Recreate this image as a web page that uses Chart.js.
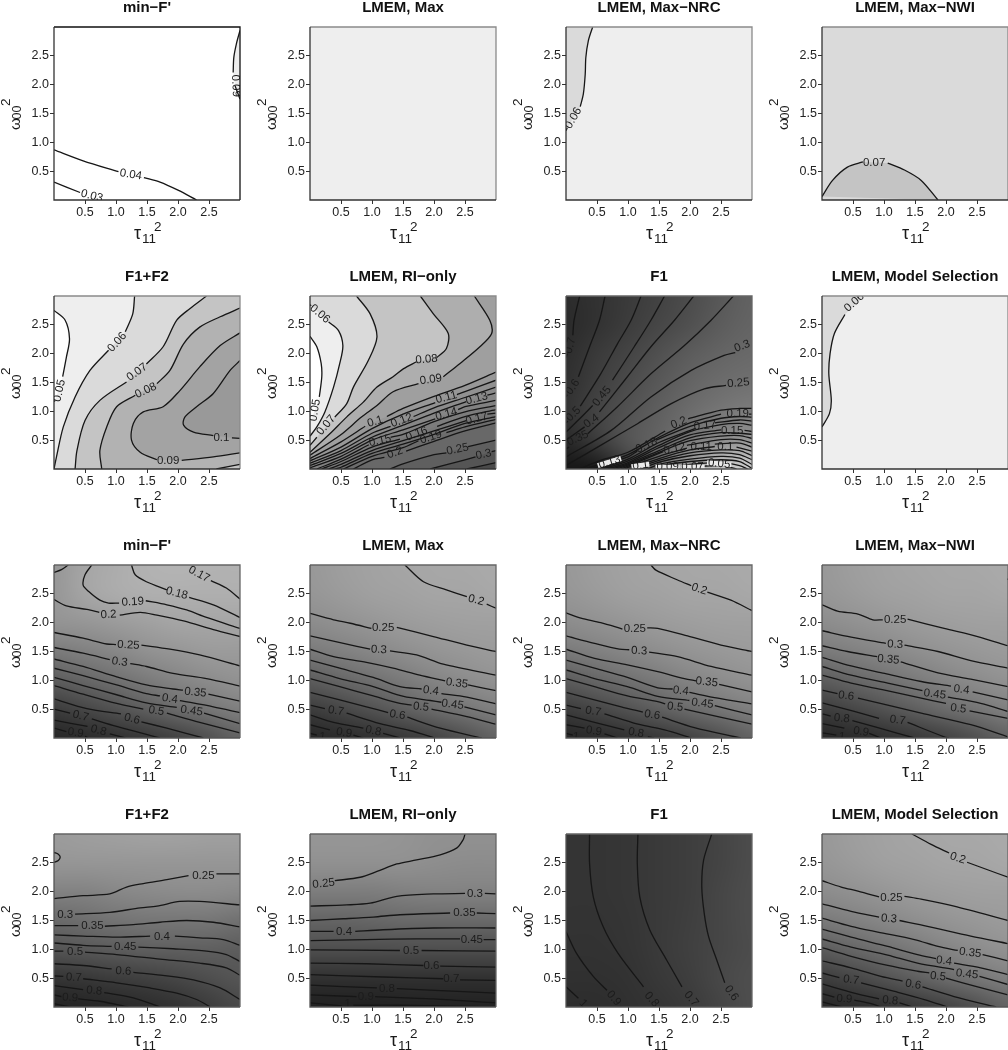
<!DOCTYPE html>
<html>
<head>
<meta charset="utf-8">
<style>
  html, body { margin: 0; padding: 0; background: #fff; overflow: hidden; }
  #page { position: relative; width: 1008px; height: 1050px; overflow: hidden; }
  #page canvas { position: absolute; }
</style>
<script src="https://cdn.jsdelivr.net/npm/chart.js@4/dist/chart.umd.min.js"></script>
</head>
<body>
<div id="page"></div>
<script>
// ---- axis and titles ----
const tickValues = [0.5, 1, 1.5, 2, 2.5];
const panelTitles = [
  "min\u2212F'", 'LMEM, Max', 'LMEM, Max\u2212NRC', 'LMEM, Max\u2212NWI',
  'F1+F2', 'LMEM, RI\u2212only', 'F1', 'LMEM, Model Selection',
  "min\u2212F'", 'LMEM, Max', 'LMEM, Max\u2212NRC', 'LMEM, Max\u2212NWI',
  'F1+F2', 'LMEM, RI\u2212only', 'F1', 'LMEM, Model Selection'
];

// ---- contour lines, [x, y] pairs, null = gap where a label sits ----
// row 1
const r1MinF = [
  [[0,.87],[.47,.68],[1.04,.49],null,[1.45,.39],[1.71,.31],[2,.17],[2.3,0]],
  [[0,.31],[.42,.13],null,[.8,0]],
  [[3,2.94],[2.94,2.7],[2.9,2.47],[2.89,2.21],null,[2.92,1.98],[3,1.75]]
];
const r1MinFLabels = [['0.04',1.24,.44,9],['0.03',.61,.07,14],['0.09',2.93,1.98,88]];
const r1Max = [];
const r1Nrc = [[[.43,3],[.36,2.76],[.32,2.47],[.31,2.18],[.28,1.84],[.23,1.62],null,[.02,1.25],[0,1.2]]];
const r1NrcLabels = [['0.06',.12,1.42,-60]];
const r1Nwi = [[[0,.06],[.17,.34],[.41,.57],[.66,.66],null,[1.06,.64],[1.33,.52],[1.6,.34],[1.87,0]]];
const r1NwiLabels = [['0.07',.84,.65,0]];

// row 2
const r2F1F2 = [
  [[0,2.75],[.18,2.58],[.25,2.26],[.2,1.94],[.14,1.6],null,[.02,1.19],[0,1.17]],
  [[0,0],[.04,.21],[.15,.73],[.34,1.25],[.58,1.71],[.88,2.06],null,[1.15,2.38],[1.27,2.69],[1.3,3]],
  [[.34,0],[.37,.32],[.5,.84],[.74,1.19],[1.17,1.51],null,[1.49,1.82],[1.76,2.12],[1.98,2.58],[2.19,2.78],[2.46,3]],
  [[.77,0],[.74,.32],[.85,.73],[1.01,1.08],[1.31,1.28],null,[1.66,1.48],[1.87,1.71],[2.09,2.17],[2.35,2.46],[2.68,2.64],[3,2.79]],
  [[3,.28],[2.57,.21],[2.06,.15],null,[1.66,.16],[1.39,.29],[1.25,.5],[1.28,.79],[1.44,.99],[1.76,1.08],[2.03,1.36],[2.35,1.77],[2.68,2.14],[3,2.36]],
  [[3,.53],[2.87,.54],null,[2.57,.58],[2.25,.64],[2.09,.76],[2.11,.9],[2.3,1.08],[2.57,1.31],[2.84,1.71],[3,1.88]],
  [[2.62,0],[3,.08]]
];
const r2F1F2Labels = [['0.05',.09,1.36,-78],['0.06',1.02,2.2,-48],['0.07',1.34,1.68,-35],['0.08',1.48,1.36,-25],['0.09',1.84,.15,0],['0.1',2.7,.54,0]];

const r2Ri = [
  [[0,2.3],[.11,2.12],[.18,1.83],[.19,1.6],[.15,1.25],null,[.02,.84]],
  [[0,2.85],[.02,2.83],null,[.3,2.55],[.46,2.4],[.53,2.14],[.48,1.83],[.38,1.42],[.24,.99],[.11,.73],[0,.57]],
  [[.75,3],[.97,2.69],[1.08,2.29],[.94,1.88],[.7,1.42],[.59,1.13],[.4,.9],null,[.11,.55],[0,.41]],
  [[1.78,3],[1.99,2.69],[2.23,2.35],[2.2,2.09],[2.04,1.93],null,[1.72,1.86],[1.51,1.74],[1.34,1.6],[1.08,1.42],[.86,1.16],[.59,.9],[.32,.61],[0,.29]],
  [[2.65,3],[2.9,2.58],[2.93,2.35],[2.74,2.12],[2.42,1.83],[2.15,1.6],null,[1.75,1.48],[1.34,1.34],[1.08,1.1],[.83,.9],[.48,.58],[0,.24]],
  [[3,1.68],[2.5,1.45],[2,1.26],[1.5,1.05],[1.24,.91],null,[.89,.74],[.5,.47],[0,.18]],
  [[3,1.54],[2.5,1.34],[2.37,1.29],null,[2.02,1.15],[1.5,.95],[1,.7],[.5,.38],[0,.14]],
  [[3,1.42],[2.5,1.24],[2,1.06],[1.67,.91],null,[1.3,.74],[1,.62],[.5,.32],[0,.1]],
  [[3,1.32],[2.86,1.28],null,[2.52,1.17],[2,.97],[1.5,.76],[1,.55],[.5,.27],[0,.06]],
  [[3,1.19],[2.5,1.08],[2.39,1.03],null,[2.02,.87],[1.5,.68],[1,.5],[.5,.22],[0,.02]],
  [[3,1.1],[2.5,.99],[2,.82],[1.5,.6],[1.3,.55],null,[.95,.42],[.5,.17],[.11,0]],
  [[3,1.03],[2.5,.91],[2.05,.74],null,[1.45,.52],[1,.38],[.5,.13],[.19,0]],
  [[3,.97],[2.86,.95],null,[2.52,.84],[2,.66],[1.5,.49],[1,.32],[.5,.08],[.3,0]],
  [[3,.91],[2.5,.79],[2,.6],[1.5,.43],[1,.27],[.5,.03],[.41,0]],
  [[3,.86],[2.5,.73],[2.2,.63],null,[1.75,.49],[1.5,.37],[1,.22],[.54,0]],
  [[3,.8],[2.5,.66],[2,.48],[1.55,.31],null,[1.2,.2],[1,.16],[.7,0]],
  [[3,.5],[2.55,.39],null,[2.2,.28],[2,.25],[1.5,.09],[1.29,0]],
  [[3,.32],[2.93,.3],null,[2.67,.21],[2.5,.16],[1.94,0]],
  [[3,.11],[2.53,0]]
];
const r2RiLabels = [
  ['0.05',.08,1.02,-80],['0.06',.16,2.69,40],['0.07',.26,.76,-50],['0.08',1.88,1.9,-5],['0.09',1.95,1.55,-8],
  ['0.1',1.05,.82,-17],['0.11',2.2,1.24,-15],['0.12',1.48,.84,-20],['0.13',2.69,1.22,-15],['0.14',2.2,.95,-15],
  ['0.15',1.13,.49,-12],['0.16',1.72,.61,-20],['0.17',2.69,.87,-15],['0.19',1.95,.55,-18],['0.2',1.37,.28,-20],
  ['0.25',2.38,.34,-12],['0.3',2.8,.25,-12]
];

const r2F1 = [
  [[.22,3],[.13,2.58],[.11,2.32],null,[.02,2],[0,1.93]],
  [[.63,3],[.54,2.58],[.38,2.12],[.2,1.6],null,[.02,1.29],[0,1.25]],
  [[1.21,3],[1.05,2.58],[.83,2.17],[.56,1.65],[.23,1.09],null,[.03,.83],[0,.8]],
  [[1.59,3],[1.37,2.58],[1.1,2.12],[.75,1.54],null,[.43,1.1],[.22,.87],[0,.64]],
  [[2.06,3],[1.75,2.58],[1.37,2.12],[.99,1.6],[.54,.99],null,[.3,.73],[0,.5]],
  [[2.7,3],[2.34,2.58],[1.91,2.14],[1.37,1.65],[.83,1.08],[.35,.61],null,[.05,.38],[0,.35]],
  [[2.73,2.02],[2.55,1.97],[2.02,1.71],[1.37,1.25],[.73,.67],[0,.21]],
  [[2.58,1.45],[2.23,1.39],[1.69,1.13],[1.16,.79],[.51,.38],[0,.06]],
  [[.22,0],[.56,.15],[1,.29],[1.6,.66],null,[1.97,.87],[2.5,1.02],[2.8,1.05],[3,1.05]],
  [[.32,0],[1,.25],[1.5,.55],[2,.8],[2.5,.95],null,[2.95,.95],[3,.95]],
  [[.41,0],[1,.21],[1.15,.31],null,[1.45,.5],[2,.74],[2.5,.88],[2.8,.91],[3,.9]],
  [[.51,0],[1,.17],[1.5,.46],[2.08,.7],null,[2.4,.8],[2.8,.85],[3,.83]],
  [[.59,0],[1,.14],[1.5,.41],[2,.65],[2.5,.77],[2.8,.79],[3,.76]],
  [[.67,0],[1,.11],[1.5,.37],[2,.59],[2.5,.68],null,[2.88,.67],[3,.65]],
  [[.75,0],[1,.09],[1.5,.32],[2,.54],[2.5,.63],[2.8,.62],[3,.6]],
  [[.82,0],[1,.07],[1.5,.29],[2,.49],[2.5,.57],[2.8,.58],[3,.53]],
  [[.89,0],[1,.05],[1.57,.3],null,[1.95,.41],[2.5,.51],[2.8,.51],[3,.45]],
  [[.95,0],[1,.03],[1.5,.22],[1.95,.36],null,[2.4,.43],[2.8,.45],[3,.38]],
  [[1.02,0],[1.5,.18],[2,.33],[2.4,.39],null,[2.75,.38],[3,.31]],
  [[1.1,0],[1.5,.15],[2,.28],[2.5,.33],[2.8,.32],[3,.23]],
  [[1.21,0],[1.5,.12],[2,.23],[2.5,.28],[2.8,.25],[3,.16]],
  [[1.32,0],[1.5,.08],[2,.17],[2.5,.22],[2.8,.19],[3,.08]],
  [[1.42,0],[1.5,.05],[2,.13],[2.5,.16],[2.8,.13],[3,.01]],
  [[1.56,0],[2,.08],[2.5,.11],[2.8,.06],[2.93,0]],
  [[1.75,0],[2,.03],[2.5,.06],[2.75,0]]
];
const r2F1Labels = [
  ['0.7',.07,2.14,-75],['0.6',.11,1.42,-55],['0.5',.12,.95,-45],['0.45',.58,1.26,-50],['0.4',.41,.83,-35],
  ['0.35',.19,.53,-25],['0.3',2.84,2.13,-20],['0.25',2.78,1.49,-5],['0.2',1.82,.8,-22],['0.19',2.77,.96,0],
  ['0.18',1.3,.41,-25],['0.17',2.24,.75,-5],['0.15',2.68,.67,0],['0.12',1.75,.35,-12],['0.11',2.18,.38,0],['0.1',2.57,.38,0]
];
const r2F1Halos = [['0.13',.7,.12,-17],['0.1',1.2,.06,-8],['0.09',1.64,.03,0],['0.07',2.04,.03,0],['0.05',2.47,.09,5]];

const r2Sel = [[[.66,2.98],null,[.37,2.68],[.2,2.35],[.13,2],[.11,1.65],[.15,1.19],[.12,.96],[0,.73]]];
const r2SelLabels = [['0.06',.52,2.89,-42]];

// row 3
const r3MinF = [
  [[0,2.87],[.12,2.92],[.23,3]],
  [[.61,3],[.5,2.83],[.47,2.65],[.56,2.54],[.74,2.39],[.88,2.34],[1.05,2.34],null,[1.48,2.38],[1.82,2.31],[2.14,2.22],[2.46,2.09],[3,1.9]],
  [[1.25,3],[1.31,2.83],[1.49,2.71],[1.82,2.57],null,[2.18,2.44],[2.57,2.31],[3,2.09]],
  [[2.14,3],null,[2.53,2.73],[2.78,2.6],[3,2.41]],
  [[0,2.4],[.2,2.29],[.53,2.23],[.73,2.18],null,[1.06,2.13],[1.39,2.18],[1.66,2.13],[2.09,2.03],[2.57,1.88],[3,1.76]],
  [[0,1.83],[.47,1.73],[.85,1.63],[1,1.62],null,[1.41,1.61],[1.87,1.54],[2.35,1.44],[3,1.25]],
  [[0,1.57],[.47,1.47],[.9,1.36],null,[1.23,1.29],[1.49,1.24],[1.92,1.12],[2.46,1.03],[3,.9]],
  [[0,1.37],[.47,1.24],[1.01,1.06],[1.49,.92],[1.92,.85],[2.08,.83],null,[2.49,.76],[3,.64]],
  [[0,1.21],[.47,1.08],[1.01,.92],[1.49,.77],[1.71,.73],null,[2.03,.65],[2.57,.54],[3,.44]],
  [[0,1.05],[.47,.91],[1.01,.75],[1.49,.61],[1.98,.53],null,[2.42,.43],[3,.25]],
  [[0,.91],[.47,.76],[1.01,.6],[1.44,.5],null,[1.82,.43],[2.35,.27],[3,.09]],
  [[0,.68],[.53,.51],[1.08,.42],null,[1.41,.28],[1.82,.17],[2.41,0]],
  [[0,.5],[.26,.43],null,[.61,.33],[1.01,.2],[1.71,0]],
  [[0,.31],[.54,.2],null,[.9,.07],[1.15,0]],
  [[0,.17],[.2,.11],null,[.5,.03],[.55,0]]
];
const r3MinFLabels = [
  ['0.19',1.27,2.36,-3],['0.18',1.98,2.51,15],['0.17',2.34,2.84,28],['0.2',.88,2.14,-3],['0.25',1.2,1.61,3],['0.3',1.06,1.32,8],
  ['0.35',2.28,.79,6],['0.4',1.87,.68,8],['0.45',2.22,.47,8],['0.5',1.65,.47,10],['0.6',1.26,.33,15],['0.7',.43,.38,15],['0.8',.72,.13,15],['0.9',.35,.09,8]
];
const r3Max = [
  [[1.53,3],[1.83,2.71],[2.2,2.57],[2.53,2.45],null,[2.85,2.32],[3,2.25]],
  [[0,2.16],[.38,2.05],[.65,1.99],[.99,1.9],null,[1.4,1.92],[1.99,1.76],[2.53,1.61],[3,1.5]],
  [[0,1.77],[.54,1.64],[.97,1.54],null,[1.29,1.51],[1.72,1.44],[2.15,1.28],[3,1.09]],
  [[0,1.54],[.38,1.41],[.91,1.31],[1.34,1.21],[1.77,1.09],[2.18,.99],null,[2.55,.92],[3,.82]],
  [[0,1.35],[.48,1.21],[1.02,1.05],[1.45,.89],[1.8,.85],null,[2.12,.77],[2.53,.71],[3,.59]],
  [[0,1.18],[.48,1.03],[1.02,.89],[1.51,.72],[1.94,.65],[2.12,.62],null,[2.49,.54],[3,.4]],
  [[0,1.03],[.48,.89],[1.02,.73],[1.45,.6],[1.64,.57],null,[1.96,.5],[2.53,.37],[3,.24]],
  [[0,.79],[.48,.66],[.91,.54],[1.26,.44],null,[1.57,.36],[2.1,.17],[2.77,0]],
  [[0,.57],[.24,.51],null,[.59,.43],[1.13,.25],[1.61,.13],[2.02,0]],
  [[0,.4],[.38,.27],[.86,.17],null,[1.18,.08],[1.45,0]],
  [[0,.23],[.32,.14],null,[.7,.05],[.86,0]],
  [[0,.08],[.11,.05]]
];
const r3MaxLabels = [
  ['0.2',2.68,2.39,15],['0.25',1.18,1.91,0],['0.3',1.11,1.53,3],['0.35',2.37,.95,7],['0.4',1.95,.82,8],['0.45',2.3,.58,8],
  ['0.5',1.79,.54,6],['0.6',1.41,.4,10],['0.7',.42,.47,10],['0.8',1.02,.12,12],['0.9',.55,.09,8],['1',.2,.02,8]
];
const r3Nrc = [
  [[1.37,3],[1.45,2.91],[1.8,2.74],[2.02,2.64],null,[2.28,2.53],[2.66,2.39],[3,2.21]],
  [[0,2.17],[.24,2.08],[.56,2],[.91,1.89],null,[1.31,1.91],[1.48,1.9],[1.96,1.77],[2.5,1.61],[3,1.5]],
  [[0,1.77],[.46,1.64],[.86,1.54],[1.02,1.53],null,[1.34,1.49],[1.8,1.41],[2.34,1.24],[3,1.09]],
  [[0,1.54],[.46,1.38],[.99,1.27],[1.48,1.15],[1.91,1.03],[2.1,.99],null,[2.47,.93],[3,.8]],
  [[0,1.35],[.46,1.21],[.99,1.05],[1.48,.87],[1.72,.85],null,[1.99,.79],[2.45,.69],[3,.59]],
  [[0,1.18],[.46,1.03],[.99,.89],[1.48,.72],[1.99,.65],null,[2.4,.56],[3,.4]],
  [[0,1.03],[.46,.89],[.99,.73],[1.48,.63],[1.6,.59],null,[1.91,.5],[2.45,.37],[3,.24]],
  [[0,.79],[.46,.66],[.89,.54],[1.24,.45],null,[1.55,.36],[2.07,.18],[2.82,0]],
  [[0,.57],[.24,.51],null,[.62,.42],[1.16,.24],[1.59,.14],[2.02,0]],
  [[0,.4],[.46,.27],[.94,.14],null,[1.32,.02],[1.42,0]],
  [[0,.23],[.3,.17],null,[.62,.07],[.83,0]],
  [[0,.08],[.11,.05]]
];
const r3NrcLabels = [
  ['0.2',2.15,2.58,18],['0.25',1.11,1.9,0],['0.3',1.18,1.51,2],['0.35',2.27,.97,6],['0.4',1.85,.82,7],['0.45',2.2,.6,7],
  ['0.5',1.76,.54,6],['0.6',1.39,.4,10],['0.7',.44,.46,10],['0.8',1.13,.09,10],['0.9',.45,.12,8],['1',.16,.02,8]
];
const r3Nwi = [
  [[2.99,2.76],[3,2.75]],
  [[0,2.31],[.25,2.2],[.58,2.15],[.82,2.05],[.98,2.05],null,[1.38,2.06],[1.97,1.9],[2.51,1.76],[3,1.6]],
  [[0,1.86],[.47,1.75],[1.03,1.64],null,[1.33,1.61],[1.87,1.5],[2.4,1.34],[3,1.21]],
  [[0,1.6],[.41,1.5],[.89,1.41],null,[1.27,1.32],[1.87,1.13],[2.4,1.02],[3,.89]],
  [[0,1.4],[.47,1.25],[1.01,1.12],[1.6,.98],[2.08,.9],null,[2.43,.8],[3,.66]],
  [[0,1.24],[.47,1.09],[1.06,.95],[1.62,.82],null,[2.03,.71],[2.56,.6],[3,.46]],
  [[0,1.09],[.47,.95],[1.01,.83],[1.6,.69],[2,.6],null,[2.38,.47],[3,.34]],
  [[0,.83],[.25,.77],null,[.58,.69],[1.06,.57],[1.6,.43],[2.4,.23],[3,.02]],
  [[0,.61],[.52,.46],[.92,.34],null,[1.38,.27],[1.97,.02],[2.05,0]],
  [[0,.42],[.14,.38],null,[.49,.3],[.9,.18],[1.49,0]],
  [[0,.25],[.36,.17],null,[.76,.08],[.95,0]],
  [[0,.09],[.23,.05]]
];
const r3NwiLabels = [
  ['0.25',1.18,2.05,0],['0.3',1.18,1.62,3],['0.35',1.07,1.36,5],['0.4',2.25,.84,7],['0.45',1.82,.76,7],['0.5',2.2,.51,7],
  ['0.6',.39,.73,8],['0.7',1.22,.31,8],['0.8',.32,.34,6],['0.9',.63,.11,10],['1',.32,.02,8]
];

// row 4
const r4F1F2 = [
  [[0,2.68],[.07,2.65],[.1,2.6],[.07,2.54],[0,2.51]],
  [[0,1.88],[.47,1.93],[.9,1.96],[1.17,2.08],[1.44,2.14],[1.82,2.21],[2.17,2.28],null,[2.62,2.31],[3,2.31]],
  [[.34,1.61],[.9,1.64],[1.39,1.72],[1.66,1.75],[2.03,1.83],[2.35,1.83],[3,1.77]],
  [[0,1.41],[.39,1.41],null,[.82,1.4],[1.28,1.43],[1.71,1.47],[2.14,1.5],[2.57,1.47],[3,1.39]],
  [[0,1.25],[.47,1.23],[1.01,1.21],[1.55,1.23],null,[1.95,1.23],[2.35,1.2],[2.73,1.17],[3,1.07]],
  [[0,1.11],[.47,1.07],[.93,1.05],null,[1.36,1.04],[1.92,1.01],[2.46,.97],[2.78,.91],[3,.79]],
  [[0,.97],[.15,.97],null,[.5,.95],[1.01,.91],[1.71,.83],[2.35,.76],[2.78,.68],[3,.55]],
  [[0,.75],[.47,.72],[.93,.66],null,[1.28,.6],[1.82,.54],[2.25,.47],[2.68,.33],[3,.13]],
  [[0,.54],[.15,.53],null,[.47,.49],[1.01,.42],[1.55,.33],[1.98,.24],[2.3,.13],[2.52,0]],
  [[0,.37],[.47,.3],null,[.81,.25],[1.28,.16],[1.71,0]],
  [[0,.21],[.12,.18],null,[.39,.14],[.74,.1],[1.2,0]],
  [[0,.06],[.26,0]]
];
const r4F1F2Labels = [
  ['0.25',2.41,2.28,0],['0.3',.18,1.6,0],['0.35',.62,1.4,0],['0.4',1.74,1.21,0],['0.45',1.15,1.04,0],['0.5',.34,.95,0],
  ['0.6',1.12,.62,3],['0.7',.32,.51,3],['0.8',.65,.28,5],['0.9',.26,.16,3]
];
const r4Ri = [
  [[.4,2.19],[.81,2.25],[1.08,2.35],[1.4,2.48],[1.72,2.55],[2.1,2.64],[2.37,2.76],[2.47,2.9],[2.5,3]],
  [[0,1.75],[.59,1.77],[.97,1.8],[1.4,1.92],[1.99,1.96],[2.5,1.97],null,[2.82,1.97],[3,1.96]],
  [[0,1.5],[.54,1.53],[1.02,1.56],[1.45,1.6],[2.26,1.63],null,[2.69,1.63],[3,1.62]],
  [[0,1.31],[.38,1.31],null,[.73,1.31],[1.18,1.34],[1.99,1.37],[3,1.37]],
  [[0,1.15],[.91,1.17],[1.72,1.18],[2.42,1.18],null,[2.8,1.17],[3,1.17]],
  [[0,.99],[1.45,.98],null,[1.8,.98],[3,.97]],
  [[0,.76],[.91,.75],[1.83,.72],null,[2.1,.71],[3,.69]],
  [[0,.56],[1.18,.52],[2.15,.49],null,[2.42,.47],[3,.46]],
  [[0,.38],[1.08,.33],null,[1.4,.32],[3,.24]],
  [[0,.21],[.75,.18],null,[1.05,.18],[1.99,.14],[3,.07]],
  [[0,.07],[.51,.02],null,[.7,.03],[1.45,.03],[3,0]]
];
const r4RiLabels = [
  ['0.25',.22,2.14,-6],['0.3',2.66,1.97,0],['0.35',2.49,1.63,0],['0.4',.55,1.31,0],['0.45',2.61,1.17,0],['0.5',1.63,.97,0],
  ['0.6',1.96,.71,0],['0.7',2.28,.48,0],['0.8',1.24,.32,0],['0.9',.9,.17,0],['1',.61,.05,0]
];
const r4F1 = [
  [[0,.35],[.2,.15],null],
  [[0,1.31],[.17,.93],[.44,.53],[.66,.29],null,[.88,0]],
  [[.38,3],[.38,2.49],[.44,1.91],[.6,1.39],[.84,.93],[1.25,.35],null,[1.48,0]],
  [[1.16,3],[1.15,2.49],[1.19,1.91],[1.35,1.34],[1.62,.82],[1.87,.35],null,[2.12,0]],
  [[2.35,3],[2.22,2.55],[2.19,2.09],[2.23,1.62],[2.3,1.22],[2.43,.82],[2.56,.42],null,[2.81,0]]
];
const r4F1Labels = [['1',.28,.06,45],['0.9',.77,.15,50],['0.8',1.38,.13,50],['0.7',2.02,.14,50],['0.6',2.67,.24,55]];
const r4Sel = [
  [[1.45,3],[1.76,2.82],[2.05,2.67],null,[2.34,2.51],[2.67,2.38],[3,2.25]],
  [[0,2.19],[.31,2.08],[.58,2.01],[.92,1.91],null,[1.33,1.92],[1.6,1.87],[2.13,1.75],[3,1.5]],
  [[0,1.79],[.47,1.66],[.92,1.56],null,[1.25,1.5],[1.7,1.4],[2.4,1.23],[3,1.1]],
  [[0,1.54],[.47,1.4],[.9,1.3],[1.49,1.17],[1.87,1.05],[2.19,.98],null,[2.59,.91],[3,.8]],
  [[0,1.35],[.47,1.21],[1.06,1.05],[1.54,.91],[1.84,.84],null,[2.13,.76],[2.56,.68],[3,.56]],
  [[0,1.18],[.47,1.04],[1.06,.9],[1.54,.76],[2.13,.65],null,[2.54,.53],[3,.39]],
  [[0,1.03],[.47,.88],[1.06,.72],[1.54,.62],[1.73,.59],null,[2,.5],[2.51,.35],[3,.21]],
  [[0,.8],[.47,.68],[.95,.53],[1.3,.45],null,[1.62,.35],[2.13,.18],[2.81,0]],
  [[0,.59],[.28,.51],null,[.63,.42],[1.17,.27],[1.65,.13],[2.03,0]],
  [[0,.4],[.52,.24],[.92,.14],null,[1.25,.07],[1.46,0]],
  [[0,.23],[.2,.17],null,[.52,.12],[.79,.06],[.95,0]],
  [[0,.09],[.25,.02],[.33,0]]
];
const r4SelLabels = [
  ['0.2',2.19,2.58,18],['0.25',1.12,1.9,0],['0.3',1.08,1.53,5],['0.35',2.39,.94,7],['0.4',1.97,.8,7],['0.45',2.34,.57,7],
  ['0.5',1.87,.53,6],['0.6',1.47,.39,10],['0.7',.47,.47,8],['0.8',1.1,.11,5],['0.9',.36,.14,3]
];

// ---- grey level read at x = 0, .5 ... 3 (columns), y = 3, 2.5 ... 0 (rows) ----
const shadeR2F1 = [
  [44,50,58,66,76,88,98],[42,50,60,70,80,92,100],[45,58,68,80,92,100,105],[48,62,75,88,100,108,112],
  [50,68,82,95,108,118,125],[40,60,85,100,120,140,150],[22,25,60,110,170,200,210]
];
const shadeMinF = [
  [150,165,172,178,180,178,178],[150,165,172,175,175,175,175],[148,150,155,160,165,165,165],[122,128,135,145,150,155,155],
  [92,102,112,122,132,140,146],[60,70,82,95,108,118,128],[38,42,48,55,65,80,98]
];
const shadeMax = [
  [152,158,162,165,167,168,170],[150,155,160,162,165,165,168],[140,145,150,155,158,160,160],[122,128,135,142,148,152,155],
  [92,102,112,122,132,140,146],[60,70,82,95,108,118,128],[38,42,48,55,65,80,98]
];
const shadeF1F2 = [
  [155,158,160,162,162,160,160],[150,150,150,150,150,150,150],[130,130,135,138,140,140,138],[105,110,115,118,118,118,112],
  [85,88,92,95,95,95,92],[52,55,60,64,70,78,85],[35,37,40,44,50,60,72]
];
const shadeRi = [
  [150,150,150,148,145,145,145],[145,145,145,145,142,140,140],[125,125,125,128,130,130,130],[100,100,102,105,105,105,105],
  [78,78,78,78,78,78,78],[48,48,48,48,48,48,48],[32,32,32,34,34,34,34]
];
const shadeR4F1 = [
  [52,52,54,58,62,68,76],[52,52,54,58,62,68,76],[52,52,54,58,62,70,77],[51,51,53,58,63,70,77],
  [50,50,52,58,64,70,76],[48,48,50,56,62,72,78],[45,45,48,52,58,68,78]
];

// ---- page layout (px) ----
const plotLefts = [54, 310, 566, 822];
const plotTops = [27, 296, 565, 834];
const plotW = 186, plotH = 173;
const fam = '"Liberation Sans", Arial, sans-serif';
const lineColor = '#161616';

// bands: [contour index, fill, closing points], painted in list order
const lowerRight = [[0, 0], [3, 0]];
const bandR2Ri = [
  [1,'#eeeeee',[]],[0,'#ffffff',[]],
  [2,'#c4c4c4',lowerRight.concat([[3, 3]])],[3,'#aeaeae',lowerRight.concat([[3, 3]])],[4,'#9f9f9f',lowerRight.concat([[3, 3]])],
  [5,'#979797',lowerRight],[6,'#919191',lowerRight],[7,'#8b8b8b',lowerRight],[8,'#868686',lowerRight],[9,'#818181',lowerRight],
  [10,'#7c7c7c',[[3, 0]]],[11,'#787878',[[3, 0]]],[12,'#747474',[[3, 0]]],[13,'#707070',[[3, 0]]],[14,'#6c6c6c',[[3, 0]]],
  [15,'#686868',[[3, 0]]],[16,'#5f5f5f',[[3, 0]]],[17,'#555555',[[3, 0]]],[18,'#4a4a4a',[[3, 0]]]
];
const bandR2F1F2 = [
  [0,'#ffffff',[]],
  [1,'#dadada',[[3, 3], [3, 0]]],
  [2,'#c4c4c4',[[3, 3], [3, 0]]],
  [3,'#b2b2b2',[[3, .08], [2.62, 0]]],
  [4,'#a3a3a3',[]],
  [5,'#999999',[]]
];

const panels = [
  { lines: r1MinF, labels: r1MinFLabels, bg: '#ffffff', bands: [[2,'#ededed',[]]], top: '#111' },
  { lines: r1Max, labels: [], bg: '#eeeeee', bands: [] },
  { lines: r1Nrc, labels: r1NrcLabels, bg: '#eeeeee', bands: [[0,'#dadada',[[0, 3]]]] },
  { lines: r1Nwi, labels: r1NwiLabels, bg: '#dadada', bands: [[0,'#c4c4c4',[]]] },
  { lines: r2F1F2, labels: r2F1F2Labels, bg: '#eeeeee', bands: bandR2F1F2 },
  { lines: r2Ri, labels: r2RiLabels, bg: '#dadada', bands: bandR2Ri },
  { lines: r2F1, labels: r2F1Labels, halos: r2F1Halos, shade: shadeR2F1, top: '#666', left: '#555' },
  { lines: r2Sel, labels: r2SelLabels, bg: '#eeeeee', bands: [[0,'#dadada',[[0, 3]]]] },
  { lines: r3MinF, labels: r3MinFLabels, shade: shadeMinF, top: '#666', left: '#555' },
  { lines: r3Max, labels: r3MaxLabels, shade: shadeMax, top: '#666', left: '#555' },
  { lines: r3Nrc, labels: r3NrcLabels, shade: shadeMax, top: '#666', left: '#555' },
  { lines: r3Nwi, labels: r3NwiLabels, shade: shadeMax, top: '#666', left: '#555' },
  { lines: r4F1F2, labels: r4F1F2Labels, shade: shadeF1F2, top: '#666', left: '#555' },
  { lines: r4Ri, labels: r4RiLabels, shade: shadeRi, top: '#666', left: '#555' },
  { lines: r4F1, labels: r4F1Labels, shade: shadeR4F1, top: '#666', left: '#555' },
  { lines: r4Sel, labels: r4SelLabels, shade: shadeMax, top: '#666', left: '#555' }
];

function toXY(pts) {
  return pts.map(p => (p ? { x: p[0], y: p[1] } : { x: null, y: null }));
}

function drawLabel(ctx, chart, text, x, y, angle, halo) {
  const px = chart.scales.x.getPixelForValue(x);
  const py = chart.scales.y.getPixelForValue(y);
  ctx.save();
  ctx.translate(px, py);
  ctx.rotate(angle * Math.PI / 180);
  ctx.font = '11.5px ' + fam;
  ctx.textAlign = 'center';
  ctx.textBaseline = 'middle';
  if (halo) {
    const w = ctx.measureText(text).width + 2;
    ctx.fillStyle = '#eaeaea';
    ctx.fillRect(-w / 2, -2.5, w, 5);
  }
  ctx.fillStyle = '#1c1c1c';
  ctx.fillText(text, 0, 0);
  ctx.restore();
}

function panelArt(p) {
  return {
    id: 'panelArt',
    beforeDatasetsDraw(chart) {
      const { ctx, chartArea: a, scales } = chart;
      ctx.save();
      if (p.bg) {
        ctx.fillStyle = p.bg;
        ctx.fillRect(a.left, a.top, a.width, a.height);
      }
      if (p.shade) {
        const ny = p.shade.length, nx = p.shade[0].length;
        const off = document.createElement('canvas');
        off.width = nx; off.height = ny;
        const octx = off.getContext('2d');
        const img = octx.createImageData(nx, ny);
        p.shade.forEach((row, j) => row.forEach((g, i) => {
          const k = (j * nx + i) * 4;
          img.data[k] = img.data[k + 1] = img.data[k + 2] = g;
          img.data[k + 3] = 255;
        }));
        octx.putImageData(img, 0, 0);
        ctx.beginPath();
        ctx.rect(a.left, a.top, a.width, a.height);
        ctx.clip();
        ctx.imageSmoothingEnabled = true;
        ctx.imageSmoothingQuality = 'high';
        const x0 = scales.x.getPixelForValue(-0.25), x1 = scales.x.getPixelForValue(3.25);
        const y0 = scales.y.getPixelForValue(3.25), y1 = scales.y.getPixelForValue(-0.25);
        ctx.drawImage(off, x0, y0, x1 - x0, y1 - y0);
      }
      ctx.restore();
    },
    afterDatasetsDraw(chart) {
      const { ctx, chartArea: a } = chart;
      ctx.save();
      ctx.beginPath();
      ctx.rect(a.left, a.top, a.width, a.height);
      ctx.clip();
      (p.halos || []).forEach(l => drawLabel(ctx, chart, l[0], l[1], l[2], l[3], true));
      p.labels.forEach(l => drawLabel(ctx, chart, l[0], l[1], l[2], l[3], false));
      ctx.restore();
    },
    afterDraw(chart) {
      const { ctx, chartArea: a } = chart;
      ctx.save();
      ctx.lineWidth = 1.3;
      ctx.strokeStyle = p.top || '#8a8a8a';
      ctx.beginPath();
      ctx.moveTo(a.left, a.top); ctx.lineTo(a.right, a.top); ctx.lineTo(a.right, a.bottom);
      ctx.stroke();
      ctx.strokeStyle = p.left || '#333';
      ctx.beginPath();
      ctx.moveTo(a.left, a.top); ctx.lineTo(a.left, a.bottom); ctx.lineTo(a.right, a.bottom);
      ctx.stroke();

      // tau_11^2 and omega_00^2 need sub and superscripts, so they are set by hand
      ctx.fillStyle = '#1a1a1a';
      ctx.textBaseline = 'alphabetic';
      ctx.textAlign = 'left';
      ctx.font = '18px ' + fam;
      ctx.fillText('\u03c4', a.left + 80, a.bottom + 39);
      ctx.font = '13.5px ' + fam;
      ctx.fillText('11', a.left + 88, a.bottom + 43);
      ctx.fillText('2', a.left + 100, a.bottom + 31);

      ctx.translate(a.left - 34, a.bottom);
      ctx.rotate(-Math.PI / 2);
      ctx.font = '15.5px ' + fam;
      ctx.fillText('\u03c9', 70, 0);
      ctx.font = '12.5px ' + fam;
      ctx.fillText('00', 80.5, 1);
      ctx.font = '13.5px ' + fam;
      ctx.fillText('2', 94, -10);
      ctx.restore();
    }
  };
}

const page = document.getElementById('page');

panels.forEach((p, n) => {
  const col = n % 4, row = Math.floor(n / 4);
  const rightPad = col === 3 ? 0 : 4;
  const canvas = document.createElement('canvas');
  canvas.width = 54 + plotW + rightPad;
  canvas.height = 28 + plotH + 48;
  canvas.style.left = (plotLefts[col] - 54) + 'px';
  canvas.style.top = (plotTops[row] - 28) + 'px';
  page.appendChild(canvas);

  const lineSets = p.lines.map(pts => ({
    data: toXY(pts), showLine: true, pointRadius: 0, borderColor: lineColor, borderWidth: 1.3,
    tension: 0.3, fill: false
  }));
  const bandSets = (p.bands || []).map(b => ({
    data: toXY(p.lines[b[0]].filter(Boolean).concat(b[2])),
    showLine: true, pointRadius: 0, borderWidth: 0, borderColor: 'transparent',
    backgroundColor: b[1], tension: 0, fill: 'shape'
  }));
  // first dataset is painted last, so bands go behind lines in reverse order
  const datasets = lineSets.concat(bandSets.reverse());

  new Chart(canvas, {
    type: 'scatter',
    data: { datasets },
    options: {
      responsive: false, animation: false, events: [],
      layout: { padding: { left: 0, right: rightPad, top: 0, bottom: 0 } },
      plugins: {
        legend: { display: false },
        tooltip: { enabled: false },
        title: {
          display: true, text: panelTitles[n], fullSize: false, color: '#111',
          font: { family: fam, size: 15, weight: 'bold', lineHeight: 1.2 },
          padding: { top: 0, bottom: 10 }
        }
      },
      scales: {
        x: {
          type: 'linear', min: 0, max: 3,
          afterBuildTicks: s => { s.ticks = tickValues.map(v => ({ value: v })); },
          afterFit: s => { s.height = 48; },
          grid: { drawOnChartArea: false, drawTicks: true, tickLength: 4, tickColor: '#333', tickWidth: 1 },
          border: { display: false },
          ticks: { color: '#222', font: { family: fam, size: 12.5 }, padding: 1, maxRotation: 0, autoSkip: false, callback: v => v.toFixed(1) }
        },
        y: {
          type: 'linear', min: 0, max: 3,
          afterBuildTicks: s => { s.ticks = tickValues.map(v => ({ value: v })); },
          afterFit: s => { s.width = 54; },
          grid: { drawOnChartArea: false, drawTicks: true, tickLength: 4, tickColor: '#333', tickWidth: 1 },
          border: { display: false },
          ticks: { color: '#222', font: { family: fam, size: 12.5 }, padding: 1, autoSkip: false, callback: v => v.toFixed(1) }
        }
      }
    },
    plugins: [panelArt(p)]
  });
});
</script>
</body>
</html>
